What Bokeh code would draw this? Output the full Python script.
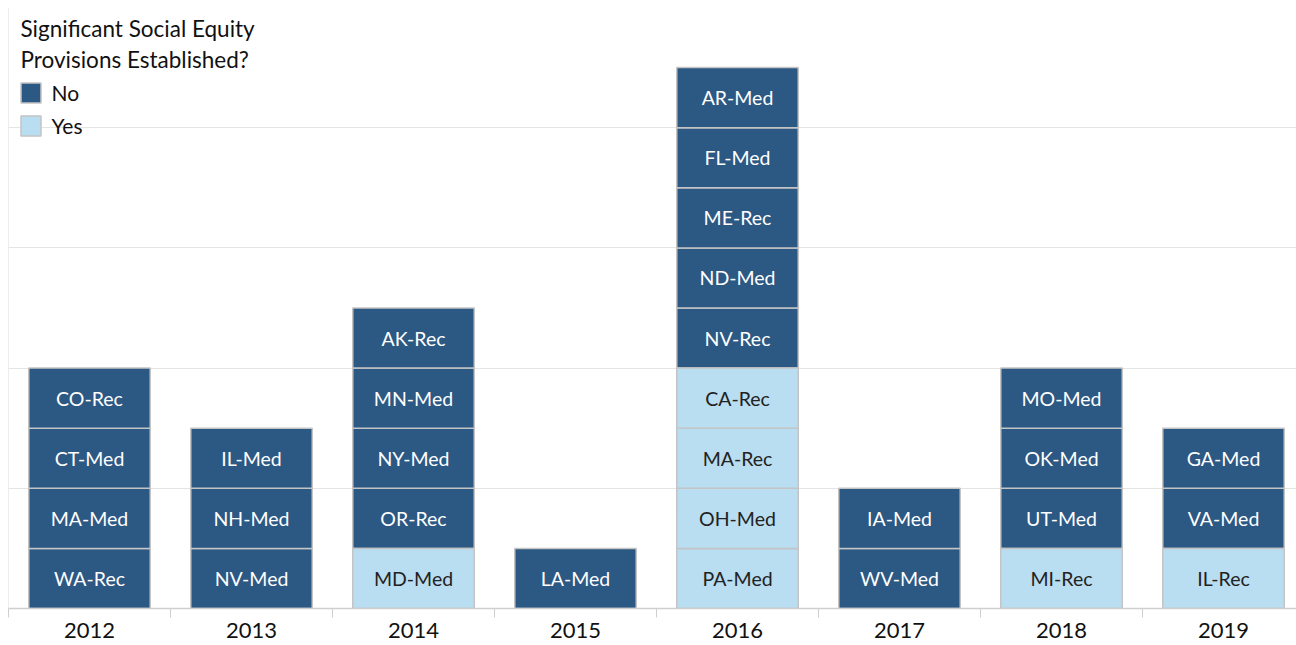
from bokeh.plotting import figure
from bokeh.models import (Range1d, FixedTicker, ColumnDataSource, Legend, LegendItem,
                          Label, Span)
from bokeh.embed import file_html
from bokeh.resources import INLINE
from bokeh.core.properties import value

# ---- data (each year's programs listed bottom to top) ----
years = ["2012", "2013", "2014", "2015", "2016", "2017", "2018", "2019"]
programs = [
    ["WA-Rec", "MA-Med", "CT-Med", "CO-Rec"],
    ["NV-Med", "NH-Med", "IL-Med"],
    ["MD-Med", "OR-Rec", "NY-Med", "MN-Med", "AK-Rec"],
    ["LA-Med"],
    ["PA-Med", "OH-Med", "MA-Rec", "CA-Rec", "NV-Rec", "ND-Med", "ME-Rec", "FL-Med", "AR-Med"],
    ["WV-Med", "IA-Med"],
    ["MI-Rec", "UT-Med", "OK-Med", "MO-Med"],
    ["IL-Rec", "VA-Med", "GA-Med"],
]
equity = [
    ["No", "No", "No", "No"],
    ["No", "No", "No"],
    ["Yes", "No", "No", "No", "No"],
    ["No"],
    ["Yes", "Yes", "Yes", "Yes", "No", "No", "No", "No", "No"],
    ["No", "No"],
    ["Yes", "No", "No", "No"],
    ["Yes", "No", "No"],
]
categories = ["No", "Yes"]
colors = {"No": "#2c5884", "Yes": "#b9ddf1"}
text_colors = {"No": "#ffffff", "Yes": "#222222"}

FONT = "Lato"
FRAME_W = 1288
BAND_PX = 162

p = figure(width=1296, height=645, output_backend="svg", toolbar_location=None,
           x_range=Range1d(0, FRAME_W / BAND_PX), y_range=Range1d(0, 10),
           min_border_left=8, min_border_right=0, min_border_top=7, min_border_bottom=37)
p.outline_line_color = None
p.background_fill_color = "white"

renderers = {}
for cat in categories:
    xs, ys, labs = [], [], []
    for i, (progs, eq) in enumerate(zip(programs, equity)):
        for j, (pr, e) in enumerate(zip(progs, eq)):
            if e == cat:
                xs.append(i + 0.5)
                ys.append(j + 0.5)
                labs.append(pr)
    src = ColumnDataSource(dict(x=xs, y=ys, label=labs))
    r = p.rect(x="x", y="y", width=0.75, height=1, source=src,
               fill_color=colors[cat], line_color="#c4c4c4", line_width=1.5)
    renderers[cat] = r
    p.text(x="x", y="y", text="label", source=src, text_align="center",
           text_baseline="middle", text_font=value(FONT), text_font_size="19.5px",
           text_color=text_colors[cat])

# axes
p.yaxis.visible = False
p.ygrid.ticker = FixedTicker(ticks=[0, 2, 4, 6, 8, 10])
p.ygrid.grid_line_color = "#e4e4e4"
p.ygrid.grid_line_width = 1
p.xgrid.visible = False

p.xaxis.ticker = FixedTicker(ticks=[i + 0.5 for i in range(len(years))],
                             minor_ticks=list(range(len(years) + 1)))
p.xaxis.major_label_overrides = {i + 0.5: y for i, y in enumerate(years)}
p.xaxis.major_tick_out = 0
p.xaxis.major_tick_in = 0
p.xaxis.minor_tick_in = 0
p.xaxis.minor_tick_out = 9
p.xaxis.minor_tick_line_color = "#cfcfcf"
p.xaxis.axis_line_color = "#cfcfcf"
p.xaxis.axis_line_width = 1.5
p.xaxis.major_label_standoff = 5
p.xaxis.major_label_text_font = FONT
p.xaxis.major_label_text_font_size = "22px"
p.xaxis.major_label_text_color = "#111111"

p.add_layout(Span(location=0, dimension="height", line_color="#dcdcdc", line_width=1))

# legend
legend = Legend(items=[LegendItem(label=c, renderers=[renderers[c]]) for c in categories],
                location=(9.5, 470), orientation="vertical",
                label_text_font=FONT, label_text_font_size="21px", label_text_color="#111111",
                glyph_width=25, glyph_height=25, label_height=25, label_standoff=9,
                spacing=8, padding=0, margin=0, background_fill_alpha=0, border_line_alpha=0)
p.add_layout(legend, "center")

for txt, yy in [("Significant Social Equity", 580), ("Provisions Established?", 549)]:
    p.add_layout(Label(x=12, y=yy, x_units="screen", y_units="screen", text=txt,
                       text_font=FONT, text_font_size="22.5px", text_color="#111111",
                       text_baseline="alphabetic"))

open("out.html", "w").write(file_html(p, INLINE))
